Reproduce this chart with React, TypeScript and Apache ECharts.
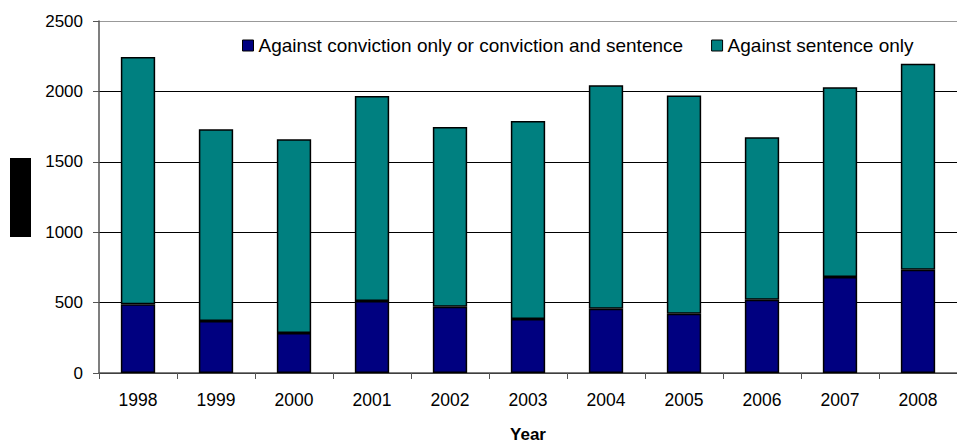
import React, { useEffect, useRef } from "react";
import * as echarts from "echarts";

const categories = ["1998", "1999", "2000", "2001", "2002", "2003", "2004", "2005", "2006", "2007", "2008"];
const convictionValues = [488, 369, 284, 511, 471, 383, 457, 421, 521, 682, 734];
const sentenceValues = [1756, 1362, 1376, 1456, 1276, 1407, 1586, 1549, 1153, 1347, 1463];
const seriesNames = ["Against conviction only or conviction and sentence", "Against sentence only"];
const yTicks = { min: 0, max: 2500, interval: 500 };

export default function App() {
  const ref = useRef<HTMLDivElement>(null);
  useEffect(() => {
    if (!ref.current) return;
    const chart = echarts.init(ref.current, null, { renderer: "svg" });
    const font = "Liberation Sans, Arial, sans-serif";
    chart.setOption({
      animation: false,
      backgroundColor: "#ffffff",
      textStyle: { fontFamily: font },
      legend: {
        left: 237,
        top: 31,
        itemWidth: 11,
        itemHeight: 11,
        itemGap: 28,
        icon: "rect",
        textStyle: { fontFamily: font, fontSize: 19, color: "#000" },
        data: seriesNames.map((n) => ({ name: n, itemStyle: { borderColor: "#000", borderWidth: 1 } })),
      },
      grid: { left: 99, top: 21, right: 0, bottom: 70, containLabel: false, outerBoundsMode: "none" },
      xAxis: {
        type: "category",
        data: categories,
        name: "Year",
        nameLocation: "middle",
        nameGap: 53,
        nameTextStyle: { fontFamily: font, fontSize: 17, fontWeight: "bold", color: "#000" },
        axisLine: { lineStyle: { color: "#555", width: 1.5 } },
        axisTick: { show: true, length: 6, lineStyle: { color: "#555" } },
        axisLabel: { fontFamily: font, fontSize: 17.5, color: "#000", margin: 18 },
      },
      yAxis: {
        type: "value",
        min: yTicks.min,
        max: yTicks.max,
        interval: yTicks.interval,
        axisLine: { show: true, lineStyle: { color: "#555", width: 1.5 } },
        axisTick: { show: true, length: 6, lineStyle: { color: "#555" } },
        axisLabel: { fontFamily: font, fontSize: 17, color: "#000", margin: 16, formatter: (v: number) => String(v) },
        splitLine: { show: true, lineStyle: { color: ["#000", "#000", "#000", "#000", "#000", "#999"], width: 1 } },
      },
      series: [
        {
          name: seriesNames[0],
          type: "bar",
          stack: "total",
          barWidth: "44%",
          data: convictionValues,
          itemStyle: { color: "#000080", borderColor: "#000", borderWidth: 1.5 },
        },
        {
          name: seriesNames[1],
          type: "bar",
          stack: "total",
          barWidth: "44%",
          data: sentenceValues,
          itemStyle: { color: "#008080", borderColor: "#000", borderWidth: 1.5 },
        },
      ],
      graphic: [
        { type: "rect", shape: { x: 10, y: 158, width: 21, height: 79 }, style: { fill: "#000" } },
      ],
    });
    return () => chart.dispose();
  }, []);
  return <div ref={ref} style={{ position: "fixed", left: 0, top: 0, width: 957, height: 443 }} />;
}
